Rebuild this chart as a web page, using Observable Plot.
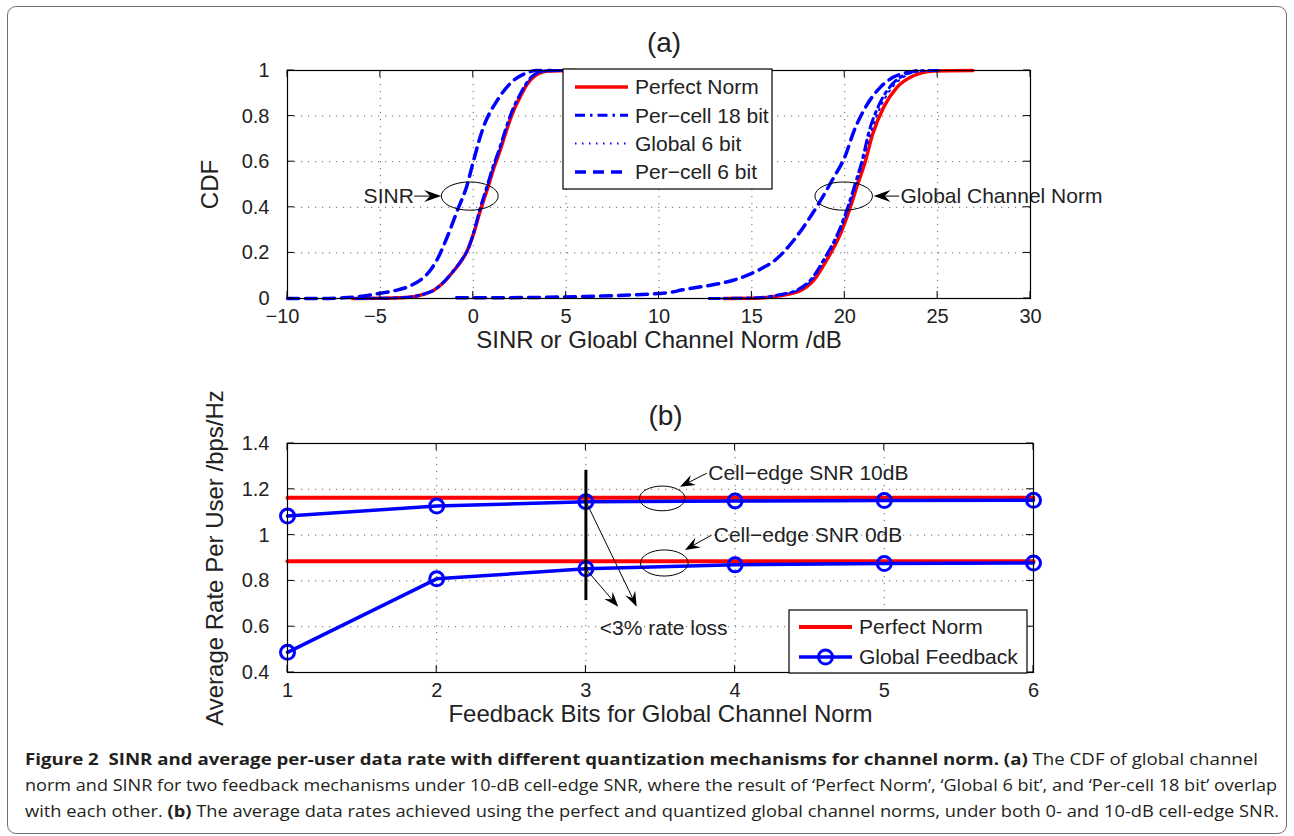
<!DOCTYPE html>
<html><head><meta charset="utf-8">
<script src="https://cdn.jsdelivr.net/npm/d3@7"></script>
<script src="https://cdn.jsdelivr.net/npm/@observablehq/plot@0.6"></script>
<style>
html,body{margin:0;padding:0;background:#fff;}
#page{position:relative;width:1294px;height:836px;overflow:hidden;background:#fff;}
#border{position:absolute;left:7px;top:6px;width:1280px;height:828px;border:1.5px solid #707070;border-radius:9px;box-sizing:border-box;}
#chartA,#chartB{position:absolute;left:0;}
#chartA{top:0px}
#chartB{top:370px}
#caption{position:absolute;left:0;top:0;}
</style></head>
<body><div id="page"><div id="border"></div><div id="chartA"></div><div id="chartB"></div>
<svg id="caption" width="1294" height="836"></svg></div>
<script>
// ---------------- Panel (a) data: CDF curves ----------------
const xTicksA = [-10, -5, 0, 5, 10, 15, 20, 25, 30];
const yTicksA = [0, 0.2, 0.4, 0.6, 0.8, 1];

const sinrPerfectX = [-6.5, -5, -4, -3.2, -2.6, -2.15, -1.6, -1.07, -0.6, -0.32, 0, 0.38, 0.8, 1.1, 1.45, 1.8, 2.15, 2.5, 2.9, 3.3, 3.6, 4.1, 5.5];
const sinrPerfectY = [0, 0.001, 0.003, 0.008, 0.02, 0.035, 0.07, 0.12, 0.17, 0.21, 0.28, 0.386, 0.49, 0.57, 0.65, 0.74, 0.82, 0.88, 0.94, 0.975, 0.99, 0.998, 1];
const sinrCell18X = [-6.3, -5, -4, -3.2, -2.6, -2.1, -1.6, -1.05, -0.6, -0.3, 0, 0.35, 0.75, 1.05, 1.4, 1.75, 2.1, 2.45, 2.85, 3.2, 3.5, 4.0, 5.2];
const sinrCell18Y = [0, 0.001, 0.003, 0.009, 0.021, 0.037, 0.072, 0.123, 0.172, 0.213, 0.283, 0.39, 0.495, 0.575, 0.655, 0.745, 0.825, 0.885, 0.943, 0.977, 0.991, 0.998, 1];
const sinrGlobal6X = [-6.4, -5, -4, -3.2, -2.6, -2.12, -1.6, -1.06, -0.6, -0.31, 0, 0.36, 0.78, 1.08, 1.42, 1.78, 2.12, 2.48, 2.88, 3.25, 3.55, 4.05, 5.3];
const sinrGlobal6Y = [0, 0.001, 0.003, 0.008, 0.02, 0.036, 0.071, 0.121, 0.171, 0.212, 0.281, 0.388, 0.492, 0.572, 0.652, 0.742, 0.822, 0.882, 0.941, 0.976, 0.99, 0.998, 1];
const sinrCell6X = [-10, -8.5, -7, -6, -5, -4.2, -3.55, -3.1, -2.7, -2.3, -1.95, -1.4, -0.86, -0.32, 0, 0.54, 1.3, 2.15, 2.9, 3.4, 4.2];
const sinrCell6Y = [0, 0, 0.003, 0.01, 0.023, 0.035, 0.05, 0.068, 0.09, 0.125, 0.17, 0.27, 0.385, 0.5, 0.6, 0.75, 0.87, 0.955, 0.99, 1, 1];

const normPerfectX = [13.5, 15.1, 16.5, 17.6, 18.3, 19.0, 19.75, 20.3, 20.65, 21.1, 21.5, 22.1, 22.8, 23.7, 24.8, 26.9];
const normPerfectY = [0, 0.001, 0.012, 0.034, 0.077, 0.165, 0.28, 0.4, 0.49, 0.6, 0.72, 0.84, 0.925, 0.977, 0.998, 1];
const normCell18X = [12.7, 15.0, 16.4, 17.5, 18.2, 18.9, 19.65, 20.2, 20.55, 20.95, 21.3, 21.85, 22.5, 23.2, 23.9, 25];
const normCell18Y = [0, 0.002, 0.015, 0.04, 0.085, 0.175, 0.29, 0.41, 0.5, 0.61, 0.73, 0.85, 0.935, 0.98, 0.998, 1];
const normGlobal6X = [12.9, 15.0, 16.45, 17.55, 18.25, 18.95, 19.7, 20.25, 20.6, 21.0, 21.4, 21.95, 22.6, 23.35, 24.1, 25.3];
const normGlobal6Y = [0, 0.002, 0.014, 0.038, 0.082, 0.172, 0.287, 0.405, 0.495, 0.605, 0.725, 0.845, 0.93, 0.98, 0.997, 1];
const normCell6X = [-0.9, 2.7, 5.6, 8.6, 10.7, 11.2, 12.9, 14.0, 14.9, 15.6, 16.2, 17.2, 18.0, 18.7, 19.4, 20.0, 20.5, 21.2, 21.9, 22.6, 23.3, 24.0];
const normCell6Y = [0.003, 0.004, 0.008, 0.016, 0.028, 0.037, 0.06, 0.08, 0.107, 0.135, 0.165, 0.25, 0.34, 0.43, 0.53, 0.62, 0.735, 0.85, 0.925, 0.97, 0.99, 1];

const legendA = ["Perfect Norm", "Per\u2212cell 18 bit", "Global 6 bit", "Per\u2212cell 6 bit"];

// annotations (a)
const annTextA = ["SINR", "Global Channel Norm"];
const annTextAX = [-3.2, 23.0];
const annTextAY = [0.447, 0.447];
const ellA_cx = [-0.16, 19.97], ellA_cy = [0.447, 0.447], ellA_rx = [1.53, 1.55], ellA_ry = [0.062, 0.062];
const arrA_x1 = [-3.15, 22.96], arrA_y1 = [0.447, 0.447], arrA_x2 = [-1.70, 21.58], arrA_y2 = [0.447, 0.447];

// ---------------- Panel (b) data ----------------
const bits = [1, 2, 3, 4, 5, 6];
const xTicksB = [1, 2, 3, 4, 5, 6];
const yTicksB = [0.4, 0.6, 0.8, 1, 1.2, 1.4];
const perfect10 = [1.163, 1.163, 1.163, 1.163, 1.163, 1.163];
const global10 = [1.083, 1.127, 1.146, 1.149, 1.151, 1.152];
const perfect0 = [0.886, 0.886, 0.886, 0.886, 0.886, 0.886];
const global0 = [0.488, 0.809, 0.853, 0.870, 0.876, 0.878];
const legendB = ["Perfect Norm", "Global Feedback"];

const vlineX = [3], vlineY1 = [0.714], vlineY2 = [1.283];
const ellB_cx = [3.515, 3.529], ellB_cy = [1.158, 0.876], ellB_rx = [0.153, 0.16], ellB_ry = [0.054, 0.057];
const arrB_x1 = [3.813, 3.846, 3.009, 3.009], arrB_y1 = [1.268, 0.998, 1.137, 0.845];
const arrB_x2 = [3.634, 3.667, 3.344, 3.22], arrB_y2 = [1.209, 0.933, 0.685, 0.685];
const annTextB = ["Cell\u2212edge SNR 10dB", "Cell\u2212edge SNR 0dB", "<3% rate loss"];
const annTextBX = [3.82, 3.857, 3.093];
const annTextBY = [1.27, 0.998, 0.591];

// ---------------- helpers ----------------
const FONT = '"Liberation Sans", Arial, Helvetica, sans-serif';
const TXT = "#222";
const rows = (xs, ys) => xs.map((x, i) => ({x, y: ys[i]}));
const zip = (...cols) => cols[0].map((_, i) => cols.map(c => c[i]));

const styles = [
  {stroke: "#ff0000", strokeWidth: 3.5, dash: null},
  {stroke: "#0000ff", strokeWidth: 3, dash: "10,5,2.5,5"},
  {stroke: "#0000ff", strokeWidth: 2, dash: "1.5,5.5"},
  {stroke: "#0000ff", strokeWidth: 3.5, dash: "11,7"}
];
const lineOpts = (s) => ({x: "x", y: "y", stroke: s.stroke, strokeWidth: s.strokeWidth, strokeDasharray: s.dash ?? undefined, curve: "monotone-x"});

function inwardTicks(xt, yt, len = 7) {
  return (index, {x, y}, values, dims) => {
    const l = dims.marginLeft, t = dims.marginTop, r = dims.width - dims.marginRight, b = dims.height - dims.marginBottom;
    const g = d3.create("svg:g").attr("stroke", "#000").attr("stroke-width", 1);
    for (const v of xt) { const p = x(v);
      g.append("line").attr("x1", p).attr("x2", p).attr("y1", b).attr("y2", b - len);
      g.append("line").attr("x1", p).attr("x2", p).attr("y1", t).attr("y2", t + len); }
    for (const v of yt) { const p = y(v);
      g.append("line").attr("y1", p).attr("y2", p).attr("x1", l).attr("x2", l + len);
      g.append("line").attr("y1", p).attr("y2", p).attr("x1", r).attr("x2", r - len); }
    return g.node();
  };
}
function ellipseMark(cx, cy, rx, ry) {
  return (index, {x, y}) => {
    const g = d3.create("svg:g");
    cx.forEach((c, i) => {
      const px = x(c), py = y(cy[i]);
      g.append("ellipse").attr("cx", px).attr("cy", py)
        .attr("rx", Math.abs(x(c + rx[i]) - px)).attr("ry", Math.abs(y(cy[i] + ry[i]) - py))
        .attr("fill", "none").attr("stroke", "#000").attr("stroke-width", 1);
    });
    return g.node();
  };
}
function arrowMark(x1s, y1s, x2s, y2s, headLen = 15, headW = 11) {
  return (index, {x, y}) => {
    const g = d3.create("svg:g");
    x1s.forEach((_, i) => {
      const ax = x(x1s[i]), ay = y(y1s[i]), bx = x(x2s[i]), by = y(y2s[i]);
      const L = Math.hypot(bx - ax, by - ay), ux = (bx - ax) / L, uy = (by - ay) / L, nx = -uy, ny = ux;
      const kx = bx - ux * headLen, ky = by - uy * headLen;
      const qx = bx - ux * headLen * 0.65, qy = by - uy * headLen * 0.65;
      g.append("line").attr("x1", ax).attr("y1", ay).attr("x2", qx).attr("y2", qy).attr("stroke", "#000").attr("stroke-width", 1);
      g.append("path").attr("fill", "#000")
        .attr("d", `M${bx},${by}L${kx + nx * headW / 2},${ky + ny * headW / 2}L${qx},${qy}L${kx - nx * headW / 2},${ky - ny * headW / 2}Z`);
    });
    return g.node();
  };
}
function legendAMark() {
  return () => {
    const g = d3.create("svg:g");
    g.append("rect").attr("x", 563).attr("y", 69).attr("width", 209).attr("height", 120)
      .attr("fill", "#fff").attr("stroke", "#000").attr("stroke-width", 1.2);
    legendA.forEach((name, i) => {
      const yy = 87 + i * 28.3, s = styles[i];
      g.append("line").attr("x1", 575).attr("x2", 628).attr("y1", yy).attr("y2", yy)
        .attr("stroke", s.stroke).attr("stroke-width", s.strokeWidth).attr("stroke-dasharray", s.dash);
      g.append("text").attr("x", 635).attr("y", yy).attr("dy", "0.35em").attr("font-size", 21)
        .attr("text-anchor", "start").attr("fill", TXT).text(name);
    });
    return g.node();
  };
}
function legendBMark() {
  return () => {
    const g = d3.create("svg:g");
    g.append("rect").attr("x", 789).attr("y", 240).attr("width", 238).attr("height", 63)
      .attr("fill", "#fff").attr("stroke", "#000").attr("stroke-width", 1.2);
    const ys = [257, 287];
    g.append("line").attr("x1", 799).attr("x2", 852).attr("y1", ys[0]).attr("y2", ys[0]).attr("stroke", "#ff0000").attr("stroke-width", 4);
    g.append("line").attr("x1", 799).attr("x2", 852).attr("y1", ys[1]).attr("y2", ys[1]).attr("stroke", "#0000ff").attr("stroke-width", 3.5);
    g.append("circle").attr("cx", 825.5).attr("cy", ys[1]).attr("r", 7).attr("fill", "none").attr("stroke", "#0000ff").attr("stroke-width", 3);
    legendB.forEach((name, i) => {
      g.append("text").attr("x", 859).attr("y", ys[i]).attr("dy", "0.35em").attr("font-size", 21)
        .attr("text-anchor", "start").attr("fill", TXT).text(name);
    });
    return g.node();
  };
}
const fmtX = d => (d < 0 ? "\u2212" + Math.abs(d) + "\u2002" : String(d));
const fmtY = d => String(+d.toFixed(2));
const grid = {stroke: "#666", strokeOpacity: 1, strokeWidth: 1, strokeDasharray: "1.2,5.8"};
const styleObj = {fontFamily: FONT, fontSize: "20px", color: TXT, background: "transparent", overflow: "visible"};
const centerText = {textAnchor: "middle", lineAnchor: "middle", fill: TXT};

// ---------------- chart (a) ----------------
const chartA = Plot.plot({
  width: 1294, height: 370,
  marginLeft: 287, marginRight: 264, marginTop: 70, marginBottom: 72,
  style: styleObj,
  x: {domain: [-10, 30]},
  y: {domain: [0, 1]},
  marks: [
    Plot.gridX(xTicksA, grid),
    Plot.gridY(yTicksA, grid),
    Plot.line(rows(sinrPerfectX, sinrPerfectY), lineOpts(styles[0])),
    Plot.line(rows(normPerfectX, normPerfectY), lineOpts(styles[0])),
    Plot.line(rows(sinrCell18X, sinrCell18Y), lineOpts(styles[1])),
    Plot.line(rows(normCell18X, normCell18Y), lineOpts(styles[1])),
    Plot.line(rows(sinrGlobal6X, sinrGlobal6Y), lineOpts(styles[2])),
    Plot.line(rows(normGlobal6X, normGlobal6Y), lineOpts(styles[2])),
    Plot.line(rows(sinrCell6X, sinrCell6Y), lineOpts(styles[3])),
    Plot.line(rows(normCell6X, normCell6Y), lineOpts(styles[3])),
    ellipseMark(ellA_cx, ellA_cy, ellA_rx, ellA_ry),
    arrowMark(arrA_x1, arrA_y1, arrA_x2, arrA_y2, 17, 12),
    Plot.text([zip(annTextA, annTextAX, annTextAY)[0]], {x: d => d[1], y: d => d[2], text: d => d[0], textAnchor: "end", fontSize: 21, fill: TXT}),
    Plot.text([zip(annTextA, annTextAX, annTextAY)[1]], {x: d => d[1], y: d => d[2], text: d => d[0], textAnchor: "start", fontSize: 21, fill: TXT}),
    Plot.frame({stroke: "#000", strokeWidth: 1.2}),
    inwardTicks(xTicksA, yTicksA),
    legendAMark(),
    Plot.axisX(xTicksA, {tickSize: 0, tickPadding: 10, tickFormat: fmtX, label: null, fontSize: 20, fill: TXT}),
    Plot.axisY(yTicksA, {tickSize: 0, tickPadding: 18, tickFormat: fmtY, label: null, fontSize: 20, fill: TXT}),
    Plot.text(["(a)"], {frameAnchor: "top", dy: -27, dx: 5, text: d => d, fontSize: 28, ...centerText}),
    Plot.text(["SINR or Gloabl Channel Norm /dB"], {frameAnchor: "bottom", dy: 42, text: d => d, fontSize: 24, ...centerText}),
    Plot.text(["CDF"], {frameAnchor: "left", dx: -77, rotate: -90, text: d => d, fontSize: 24, ...centerText})
  ]
});
document.getElementById("chartA").appendChild(chartA);

// ---------------- chart (b) ----------------
const rowsB = (ys) => bits.map((b, i) => ({x: b, y: ys[i]}));
const chartB = Plot.plot({
  width: 1294, height: 375,
  marginLeft: 287, marginRight: 261, marginTop: 73, marginBottom: 73,
  style: styleObj,
  x: {domain: [1, 6]},
  y: {domain: [0.4, 1.4]},
  marks: [
    Plot.gridX(xTicksB, grid),
    Plot.gridY(yTicksB, grid),
    Plot.line(rowsB(perfect10), {x: "x", y: "y", stroke: "#ff0000", strokeWidth: 4}),
    Plot.line(rowsB(perfect0), {x: "x", y: "y", stroke: "#ff0000", strokeWidth: 4}),
    Plot.line(rowsB(global10), {x: "x", y: "y", stroke: "#0000ff", strokeWidth: 3.5}),
    Plot.line(rowsB(global0), {x: "x", y: "y", stroke: "#0000ff", strokeWidth: 3.5}),
    Plot.dot(rowsB(global10), {x: "x", y: "y", r: 7, stroke: "#0000ff", strokeWidth: 3, fill: "none"}),
    Plot.dot(rowsB(global0), {x: "x", y: "y", r: 7, stroke: "#0000ff", strokeWidth: 3, fill: "none"}),
    Plot.ruleX(zip(vlineX, vlineY1, vlineY2), {x: d => d[0], y1: d => d[1], y2: d => d[2], stroke: "#000", strokeWidth: 3}),
    ellipseMark(ellB_cx, ellB_cy, ellB_rx, ellB_ry),
    arrowMark(arrB_x1, arrB_y1, arrB_x2, arrB_y2, 15, 11),
    Plot.text(zip(annTextB, annTextBX, annTextBY), {x: d => d[1], y: d => d[2], text: d => d[0], textAnchor: "start", fontSize: 21, fill: TXT}),
    Plot.frame({stroke: "#000", strokeWidth: 1.2}),
    inwardTicks(xTicksB, yTicksB),
    legendBMark(),
    Plot.axisX(xTicksB, {tickSize: 0, tickPadding: 10, tickFormat: d => String(d), label: null, fontSize: 20, fill: TXT}),
    Plot.axisY(yTicksB, {tickSize: 0, tickPadding: 18, tickFormat: fmtY, label: null, fontSize: 20, fill: TXT}),
    Plot.text(["(b)"], {frameAnchor: "top", dy: -27, dx: 5, text: d => d, fontSize: 28, ...centerText}),
    Plot.text(["Feedback Bits for Global Channel Norm"], {frameAnchor: "bottom", dy: 42, text: d => d, fontSize: 24, ...centerText}),
    Plot.text(["Average Rate Per User /bps/Hz"], {frameAnchor: "left", dx: -72, rotate: -90, text: d => d, fontSize: 24, ...centerText})
  ]
});
document.getElementById("chartB").appendChild(chartB);

// ---------------- caption ----------------
const captionLines = [
  [["b", "Figure 2\u00a0 SINR and average per-user data rate with different quantization mechanisms for channel norm. (a)"], ["n", " The CDF of global channel"]],
  [["n", "norm and SINR for two feedback mechanisms under 10-dB cell-edge SNR, where the result of \u2018Perfect Norm\u2019, \u2018Global 6 bit\u2019, and \u2018Per-cell 18 bit\u2019 overlap"]],
  [["n", "with each other. "], ["b", "(b)"], ["n", " The average data rates achieved using the perfect and quantized global channel norms, under both 0- and 10-dB cell-edge SNR."]]
];
const capX = [25, 25, 25], capY = [765, 791, 817], capEnd = [1258, 1277, 1279];
const cap = d3.select("#caption");
captionLines.forEach((parts, i) => {
  const t = cap.append("text").attr("x", capX[i]).attr("y", capY[i])
    .attr("font-family", '"Open Sans", "Noto Sans", sans-serif').attr("font-size", 16.5).attr("fill", "#231f20")
    .attr("textLength", capEnd[i] - capX[i]).attr("lengthAdjust", "spacingAndGlyphs").attr("xml:space", "preserve");
  parts.forEach(([w, s]) => t.append("tspan").attr("font-weight", w === "b" ? 700 : 400).text(s));
});
</script></body></html>
